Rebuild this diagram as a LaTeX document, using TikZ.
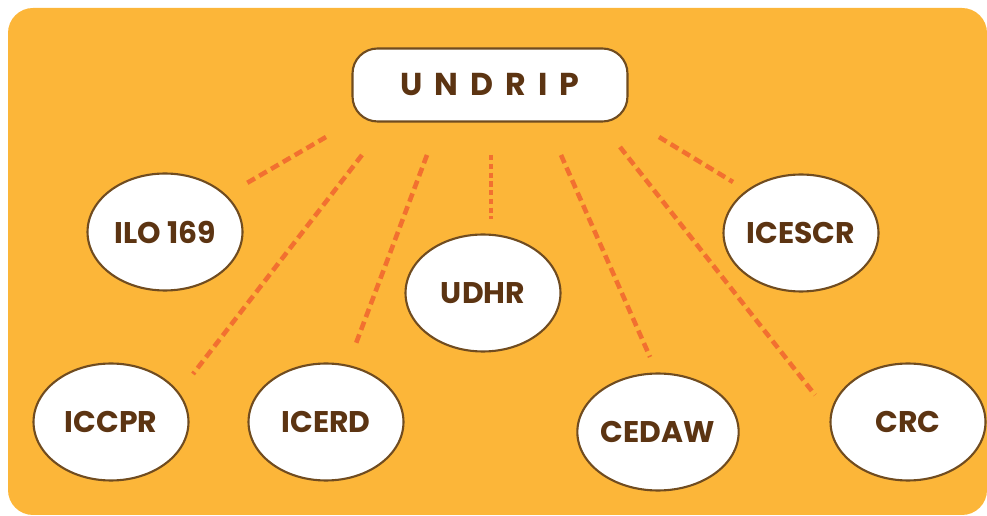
\documentclass[tikz,border=0pt]{standalone}
\usepackage{fontspec}
\setmainfont{Poppins}
\usetikzlibrary{positioning}
\usetikzlibrary{shapes.geometric}
\definecolor{bgorange}{RGB}{252,182,57}
\definecolor{dashred}{RGB}{242,112,48}
\definecolor{rimbrown}{RGB}{112,76,32}
\definecolor{inkbrown}{RGB}{92,52,18}
\tikzset{doc/.style={ellipse,draw=rimbrown,line width=1.2pt,fill=white,
  minimum width=3.1cm,minimum height=2.34cm,inner sep=0pt,
  text=inkbrown,font=\fontsize{17}{19}\selectfont\bfseries}}
\tikzset{topbox/.style={rectangle,rounded corners=0.5cm,draw=rimbrown,line width=1.2pt,
  fill=white,minimum width=5.5cm,minimum height=1.46cm,inner sep=0pt,
  text=inkbrown,font=\fontsize{18}{20}\selectfont\bfseries\addfontfeature{LetterSpace=38}}}
\tikzset{link/.style={dashred,line width=2.6pt,dash pattern=on 5pt off 2.8pt}}

\begin{document}
\begin{tikzpicture}[x=0.02cm,y=-0.02cm]
\useasboundingbox (0,0) rectangle (987,516);
\fill[bgorange,rounded corners=0.5cm] (8,8) rectangle (987,515);

\node[topbox] at (490,85) (undrip) {UNDRIP};
\node[doc] at (165,232) (ilo) {ILO 169};
\node[doc] at (483,293) (udhr) {UDHR};
\node[doc] at (801,233) (icescr) {ICESCR};
\node[doc] at (111,422) (iccpr) {ICCPR};
\node[doc] at (326,422) (icerd) {ICERD};
\node[doc] at (658,432) (cedaw) {CEDAW};
\node[doc] at (908,422) (crc) {CRC};

% free ends of the dashed links
\coordinate (s1) at (326,137); \coordinate (e1) at (247,183);
\coordinate (s2) at (362,155); \coordinate (e2) at (193,374);
\coordinate (s3) at (427,155); \coordinate (e3) at (355,346);
\coordinate (s4) at (491,155); \coordinate (e4) at (491,219);
\coordinate (s5) at (561,155); \coordinate (e5) at (650,357);
\coordinate (s6) at (620,147); \coordinate (e6) at (815,395);
\coordinate (s7) at (659,137); \coordinate (e7) at (733,182);

\draw[link] (s1) -- (e1);
\draw[link] (s2) -- (e2);
\draw[link] (s3) -- (e3);
\draw[link,dash pattern=on 3pt off 2pt] (s4) -- (e4);
\draw[link] (s5) -- (e5);
\draw[link] (s6) -- (e6);
\draw[link] (s7) -- (e7);

\end{tikzpicture}
\end{document}
